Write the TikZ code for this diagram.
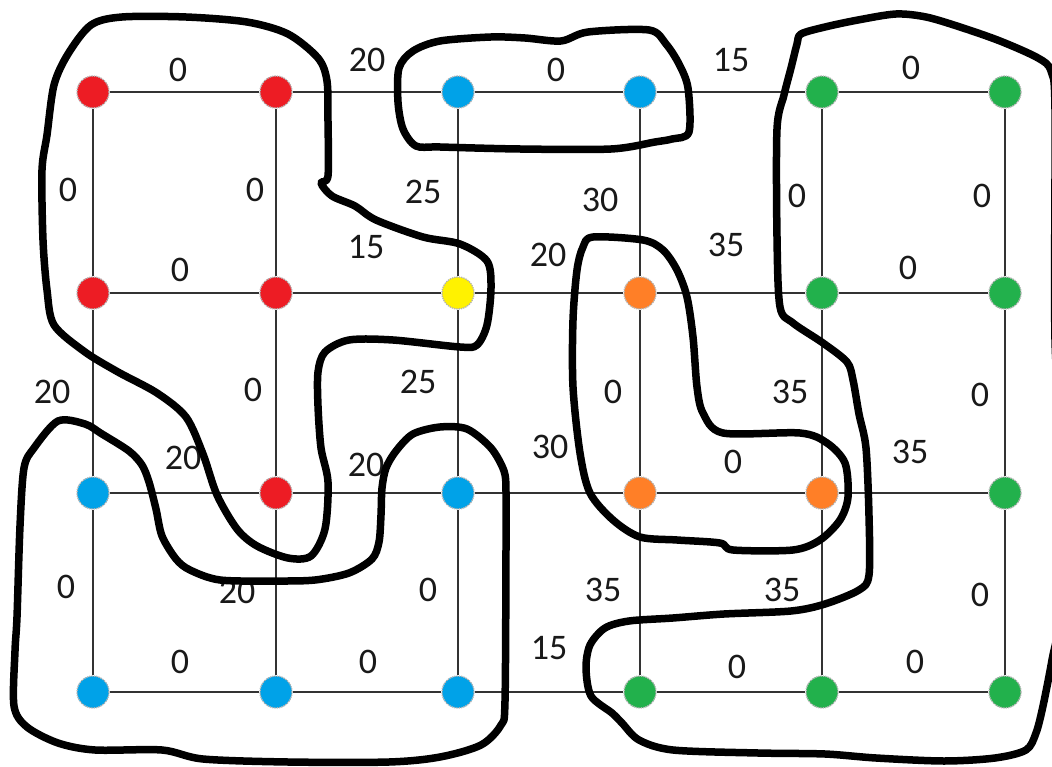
\documentclass[tikz,border=0pt]{standalone}
\usepackage{fontspec}
\setmainfont{Carlito}
\begin{document}
\begin{tikzpicture}[x=1pt,y=-1pt]
\definecolor{cred}{HTML}{ED1C24}
\definecolor{cblue}{HTML}{00A2E8}
\definecolor{cgreen}{HTML}{22B14C}
\definecolor{corange}{HTML}{FF7F27}
\definecolor{cyellow}{HTML}{FFF200}
\tikzset{
  vtx/.style={circle, minimum size=32pt, inner sep=0pt, draw=gray!60, densely dotted, line width=1.3pt},
  edge/.style={draw=black!80, line width=2.8pt},
  wlab/.style={font=\fontsize{36}{40}\selectfont, inner sep=0pt, text=black!90},
  blob/.style={draw=black, line width=7.5pt, line join=round}
}
\useasboundingbox (0,0) rectangle (1052,767);
\clip (0,0) rectangle (1052,767);
\fill[white] (0,0) rectangle (1052,767);
% nodes
\node[vtx, fill=cred]    (n00) at (93,92) {};
\node[vtx, fill=cred]    (n01) at (276,92) {};
\node[vtx, fill=cblue]   (n02) at (458,92) {};
\node[vtx, fill=cblue]   (n03) at (640,92) {};
\node[vtx, fill=cgreen]  (n04) at (822,92) {};
\node[vtx, fill=cgreen]  (n05) at (1005,92) {};
\node[vtx, fill=cred]    (n10) at (93,293) {};
\node[vtx, fill=cred]    (n11) at (276,293) {};
\node[vtx, fill=cyellow] (n12) at (458,293) {};
\node[vtx, fill=corange] (n13) at (640,293) {};
\node[vtx, fill=cgreen]  (n14) at (822,293) {};
\node[vtx, fill=cgreen]  (n15) at (1005,293) {};
\node[vtx, fill=cblue]   (n20) at (93,493) {};
\node[vtx, fill=cred]    (n21) at (276,493) {};
\node[vtx, fill=cblue]   (n22) at (458,493) {};
\node[vtx, fill=corange] (n23) at (640,493) {};
\node[vtx, fill=corange] (n24) at (822,493) {};
\node[vtx, fill=cgreen]  (n25) at (1005,493) {};
\node[vtx, fill=cblue]   (n30) at (93,692) {};
\node[vtx, fill=cblue]   (n31) at (276,692) {};
\node[vtx, fill=cblue]   (n32) at (458,692) {};
\node[vtx, fill=cgreen]  (n33) at (640,692) {};
\node[vtx, fill=cgreen]  (n34) at (822,692) {};
\node[vtx, fill=cgreen]  (n35) at (1005,692) {};
% edges
\foreach \r in {0,1,2,3}{
  \foreach \c/\d in {0/1,1/2,2/3,3/4,4/5}{
    \draw[edge] (n\r\c) -- (n\r\d);
  }
}
\foreach \c in {0,1,2,3,4,5}{
  \foreach \r/\s in {0/1,1/2,2/3}{
    \draw[edge] (n\r\c) -- (n\s\c);
  }
}
% weight labels
\node[wlab] (h00) at (178,70) {0};
\node[wlab] (h01) at (367,60) {20};
\node[wlab] (h02) at (556,70) {0};
\node[wlab] (h03) at (731,60) {15};
\node[wlab] (h04) at (911,68) {0};
\node[wlab] (v00) at (68,190) {0};
\node[wlab] (v01) at (255,190) {0};
\node[wlab] (v02) at (423,192) {25};
\node[wlab] (v03) at (600,200) {30};
\node[wlab] (v04) at (797,196) {0};
\node[wlab] (v05) at (982,196) {0};
\node[wlab] (h10) at (180,270) {0};
\node[wlab] (h11) at (366,247) {15};
\node[wlab] (h12) at (548,255) {20};
\node[wlab] (h13) at (726,245) {35};
\node[wlab] (h14) at (908,268) {0};
\node[wlab] (v10) at (52,392) {20};
\node[wlab] (v11) at (253,390) {0};
\node[wlab] (v12) at (418,382) {25};
\node[wlab] (v13) at (613,392) {0};
\node[wlab] (v14) at (790,392) {35};
\node[wlab] (v15) at (980,395) {0};
\node[wlab] (h20) at (183,458) {20};
\node[wlab] (h21) at (366,465) {20};
\node[wlab] (h22) at (550,447) {30};
\node[wlab] (h23) at (733,462) {0};
\node[wlab] (h24) at (910,452) {35};
\node[wlab] (v20) at (66,587) {0};
\node[wlab] (v21) at (237,592) {20};
\node[wlab] (v22) at (428,590) {0};
\node[wlab] (v23) at (603,590) {35};
\node[wlab] (v24) at (782,590) {35};
\node[wlab] (v25) at (980,595) {0};
\node[wlab] (h30) at (180,662) {0};
\node[wlab] (h31) at (368,662) {0};
\node[wlab] (h32) at (549,648) {15};
\node[wlab] (h33) at (737,667) {0};
\node[wlab] (h34) at (915,662) {0};
% hand-drawn region outlines
\draw[blob] plot[smooth cycle, tension=0.5] coordinates {
(91,25) (122,17) (186,17) (247,22) (288,34) (318,58) (327,81) (328,122) (328,176)
(321,183) (332,196) (355,206) (376,220) (423,237) (460,244) (487,261) (491,288)
(487,325) (477,345) (460,347) (393,340) (349,340) (325,352) (318,372) (318,406)
(321,448) (328,482) (325,529) (311,556) (288,558) (257,546) (237,529) (217,495)
(203,454) (186,417) (157,393) (118,372) (85,352) (54,325) (47,290)
(43,240) (42,170) (47,135) (54,85) (68,54)};
\draw[blob] plot[smooth cycle, tension=0.5] coordinates {
(58,421) (85,424) (102,434) (129,451) (142,465) (149,482) (156,509) (162,536)
(176,559) (190,570) (220,580) (277,581) (315,580) (349,573) (372,559) (379,542)
(381,515) (382,488) (386,468) (396,451) (413,434) (440,427) (467,429) (491,448)
(504,471) (506,492) (506,549) (505,701) (501,725) (481,745) (440,757) (389,762)
(288,762) (203,759) (162,750) (95,750) (58,743) (27,727) (14,706) (15,651)
(17,617) (20,526) (24,468) (34,448)};
\draw[blob] plot[smooth cycle, tension=0.5] coordinates {
(416,146) (403,129) (398,102) (399,68) (413,51) (440,41) (491,37) (525,38)
(561,41) (588,32) (649,30) (666,44) (679,64) (688,88) (689,132) (672,139)
(655,142) (611,149) (520,149) (440,147)};
\draw[blob] plot[smooth cycle, tension=0.5] coordinates {
(593,237) (643,240) (663,250) (677,270) (687,297) (693,337) (697,387) (703,413)
(723,433) (800,433) (827,443) (845,463) (848,497) (840,520) (820,540) (793,550)
(733,550) (720,543) (677,540) (640,537) (613,520) (590,493) (580,453) (573,387)
(573,320) (577,270) (583,247)};
\draw[blob] plot[smooth cycle, tension=0.5] coordinates {
(801,34) (825,27) (858,20) (896,14) (926,17) (960,27) (1000,41) (1038,58)
(1051,71) (1055,110) (1055,340) (1063,450) (1062,600) (1052,660) (1043,706)
(1036,733) (1026,750) (995,758) (944,761) (876,758) (825,754) (758,753)
(673,750) (639,740) (622,723) (612,713) (591,696) (586,668) (590,645) (605,628)
(629,621) (673,618) (724,614) (791,611) (825,604) (859,590) (869,575) (869,516)
(866,448) (859,414) (853,380) (847,362) (823,343) (793,323) (780,307) (777,237)
(777,129) (784,95) (791,68) (797,44)};
\end{tikzpicture}
\end{document}
